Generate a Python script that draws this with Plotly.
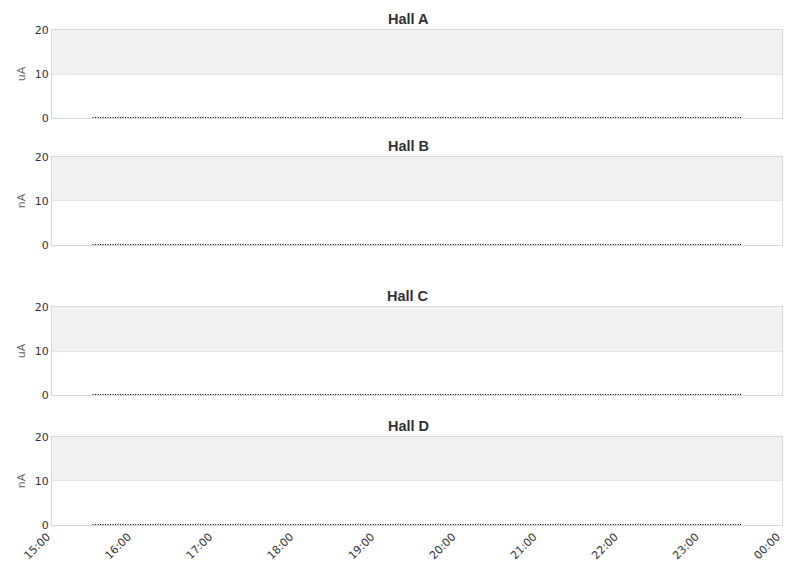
import plotly.graph_objects as go
from plotly.subplots import make_subplots

# beam current per hall, flat at zero for the shown window
halls = ["Hall A", "Hall B", "Hall C", "Hall D"]
units = ["uA", "nA", "uA", "nA"]
times = ["2024-01-01 15:30", "2024-01-01 23:30"]
hall_a = [0, 0]
hall_b = [0, 0]
hall_c = [0, 0]
hall_d = [0, 0]
series = [hall_a, hall_b, hall_c, hall_d]

x_range = ["2024-01-01 15:00", "2024-01-02 00:00"]
y_range = [0, 20]

domains = [[0.8222, 1.0], [0.5657, 0.7434], [0.2626, 0.4404], [0.0, 0.1778]]

fig = make_subplots(rows=4, cols=1, shared_xaxes=True)

for i, (name, vals) in enumerate(zip(halls, series)):
    r = i + 1
    fig.add_trace(go.Scatter(
        x=times, y=vals, mode="lines", name=name, showlegend=False,
        line=dict(color="#000000", width=2, dash="1px,1.5px"),
    ), row=r, col=1)
    yname = "yaxis" if r == 1 else f"yaxis{r}"
    xname = "xaxis" if r == 1 else f"xaxis{r}"
    yref = "y" if r == 1 else f"y{r}"
    xref = "x" if r == 1 else f"x{r}"
    fig.layout[yname].update(
        domain=domains[i], range=y_range, tickvals=[0, 10, 20],
        showgrid=True, gridcolor="#e6e6e6", zeroline=False,
        showline=True, mirror=True, linecolor="#d8d8d8", linewidth=1,
        ticks="", tickfont=dict(family="DejaVu Sans", size=11, color="#333333"),
        title=dict(text=units[i], standoff=6,
                   font=dict(family="DejaVu Sans", size=11, color="#666666")),
        fixedrange=True,
    )
    fig.layout[xname].update(
        type="date", range=x_range, dtick=3600000, tickformat="%H:%M",
        showgrid=False, zeroline=False, showline=True, mirror=True,
        linecolor="#d8d8d8", linewidth=1, ticks="",
        tickangle=-45, showticklabels=(r == 4), ticklabelshift=-5,
        tickfont=dict(family="DejaVu Sans", size=11, color="#333333"),
    )
    # shaded upper band
    fig.add_shape(type="rect", xref=f"{xref} domain", yref=yref,
                  x0=0, x1=1, y0=10, y1=20, fillcolor="#f2f2f2",
                  line=dict(width=0), layer="below")
    fig.add_annotation(text=f"<b>{name}</b>", xref="paper", yref="paper",
                       x=0.4877, y=domains[i][1], yanchor="bottom", yshift=1,
                       showarrow=False,
                       font=dict(family="Liberation Sans", size=14.5, color="#333333"))

# page body adds an 8px offset, so the figure is drawn a bit smaller
fig.update_layout(
    width=803, height=570,
    margin=dict(l=44, r=29, t=22, b=53),
    plot_bgcolor="white", paper_bgcolor="white",
)

fig.write_html("out.html")
